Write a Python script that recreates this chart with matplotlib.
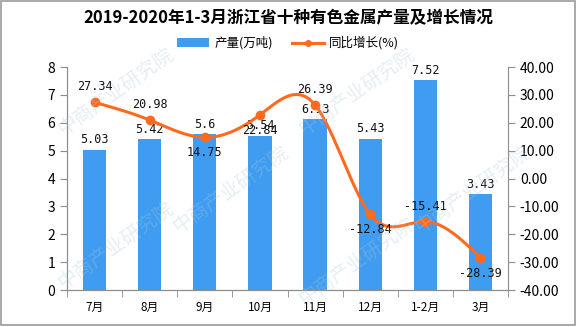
import numpy as np
import matplotlib
matplotlib.use('Agg')
from matplotlib import pyplot as plt
from matplotlib.patches import Rectangle

plt.rcParams['font.family'] = ['Noto Sans CJK SC', 'DejaVu Sans']

months = ['7月', '8月', '9月', '10月', '11月', '12月', '1-2月', '3月']
output = [5.03, 5.42, 5.6, 5.54, 6.13, 5.43, 7.52, 3.43]
growth = [27.34, 20.98, 14.75, 22.84, 26.39, -12.84, -15.41, -28.39]
growth_above = [True, True, False, False, True, False, True, False]

bar_color = '#3F9CF0'
line_color = '#FF6A1F'
axis_color = '#8C8C8C'


def natural_spline(x, y, n=40):
    # natural cubic spline through the points, for a smoothed line
    x = np.asarray(x, float)
    y = np.asarray(y, float)
    k = len(x)
    h = np.diff(x)
    A = np.zeros((k, k))
    b = np.zeros(k)
    A[0, 0] = A[-1, -1] = 1
    for i in range(1, k - 1):
        A[i, i - 1] = h[i - 1]
        A[i, i] = 2 * (h[i - 1] + h[i])
        A[i, i + 1] = h[i]
        b[i] = 3 * ((y[i + 1] - y[i]) / h[i] - (y[i] - y[i - 1]) / h[i - 1])
    c = np.linalg.solve(A, b)
    xs, ys = [], []
    for i in range(k - 1):
        bb = (y[i + 1] - y[i]) / h[i] - h[i] * (2 * c[i] + c[i + 1]) / 3
        d = (c[i + 1] - c[i]) / (3 * h[i])
        t = np.linspace(0, h[i], n, endpoint=(i == k - 2))
        xs.append(x[i] + t)
        ys.append(y[i] + bb * t + c[i] * t ** 2 + d * t ** 3)
    return np.concatenate(xs), np.concatenate(ys)


fig = plt.figure(figsize=(5.76, 3.27), dpi=100)
ax = fig.add_axes([0.1163, 0.113, 0.7657, 0.682])
ax2 = ax.twinx()

x = np.arange(len(months))
bars = ax.bar(x, output, width=0.42, color=bar_color, zorder=2, label='产量(万吨)')
for xi, v in zip(x, output):
    ax.text(xi, v + 0.12, f'{v:g}', ha='center', va='bottom', fontsize=8.5,
            family=['DejaVu Sans Mono'], color='#111111', zorder=5)

sx, sy = natural_spline(x, growth)
ax2.plot(sx, sy, color=line_color, lw=2.2, zorder=3)
ax2.plot(x, growth, 'o', color=line_color, ms=6, zorder=4)
line_proxy, = ax2.plot([], [], '-o', color=line_color, lw=2.2, ms=4, label='同比增长(%)')
for xi, v, up in zip(x, growth, growth_above):
    off = 3.2 if up else -3.2
    ax2.text(xi, v + off, f'{v:.2f}', ha='center', va='bottom' if up else 'top',
             fontsize=8.5, family=['DejaVu Sans Mono'], color='#111111', zorder=5)

ax.set_xlim(-0.5, len(months) - 0.5)
ax.set_ylim(0, 8)
ax.set_yticks(range(0, 9))
ax2.set_ylim(-40, 40)
ax2.set_yticks(np.arange(-40, 41, 10))
ax2.set_yticklabels([f'{t:.2f}' for t in np.arange(-40, 41, 10)])

ax.set_xticks(x)
ax.set_xticklabels(months, fontsize=8.5)
ax.set_xticks(np.arange(-0.5, len(months), 1), minor=True)
ax.tick_params(axis='x', which='major', length=0, pad=8)
ax.tick_params(axis='x', which='minor', length=5, color=axis_color)
ax.tick_params(axis='y', labelsize=10, length=5, color=axis_color)
ax2.tick_params(axis='y', labelsize=10, length=5, color=axis_color)

for a in (ax, ax2):
    a.spines['top'].set_visible(False)
    for s in ('left', 'right', 'bottom'):
        a.spines[s].set_color(axis_color)
ax.spines['right'].set_visible(False)

fig.text(0.5, 0.945, '2019-2020年1-3月浙江省十种有色金属产量及增长情况',
         ha='center', va='center', fontsize=12, fontweight='bold')
fig.legend(handles=[bars, line_proxy], loc='center', bbox_to_anchor=(0.5, 0.868),
           ncol=2, frameon=False, fontsize=9, handlelength=2.6, columnspacing=1.5,
           handletextpad=0.4)

# faint watermark text
for wx, wy in [(0.2, 0.72), (0.62, 0.72), (0.4, 0.42), (0.82, 0.42),
               (0.2, 0.25), (0.62, 0.2)]:
    fig.text(wx, wy, '中商产业研究院', rotation=35, fontsize=14, color='#A8C8DC',
             alpha=0.3, ha='center', va='center', zorder=0)

fig.patches.append(Rectangle((0.001, 0.005), 0.997, 0.993, transform=fig.transFigure,
                             fill=False, edgecolor='#999999', lw=1.2))

fig.savefig('out.png', dpi=100)
